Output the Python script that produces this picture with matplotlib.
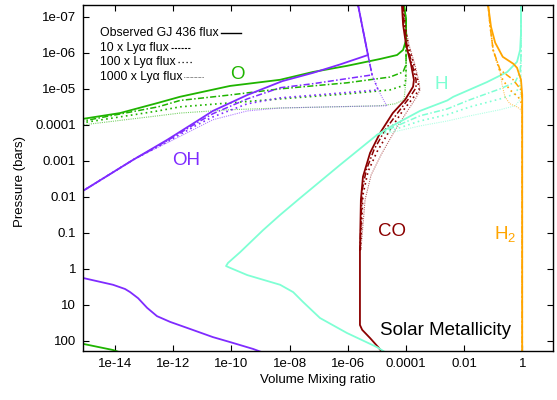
import matplotlib
matplotlib.use("Agg")
import matplotlib.pyplot as plt
from matplotlib.lines import Line2D
from matplotlib.ticker import FixedLocator, NullLocator

plt.rcParams["font.family"] = ["Liberation Sans", "DejaVu Sans"]
plt.rcParams["mathtext.default"] = "regular"

# ---- data: volume mixing ratio vs pressure (bars) ----
# O
o_obs_vmr = [8.5e-5, 1.0e-4, 1.0e-4, 7.9e-5, 4.9e-5, 1.29e-5, 9.3e-7, 6.3e-8, 4.7e-9, 8.9e-11,
             1.7e-12, 3.0e-13, 1.48e-14, 7.9e-16, 1e-17, 1e-16, 7.9e-16, 8.5e-15, 3e-14]
o_obs_p = [4.7e-8, 1.2e-7, 4.4e-7, 8.3e-7, 1.15e-6, 1.48e-6, 2.3e-6, 3.4e-6, 5.6e-6, 8.3e-6,
           1.66e-5, 2.45e-5, 4.7e-5, 6.8e-5, 1e-3, 50, 120, 178, 250]
o_10x_vmr = [8.5e-5, 1.0e-4, 1.0e-4, 1.0e-4, 7.9e-5, 2.8e-5, 9.3e-7, 4.7e-9, 8.9e-11, 1.7e-12,
             3.0e-13, 7.9e-16, 1e-17]
o_10x_p = [4.7e-8, 1.2e-7, 6.0e-7, 2.1e-6, 3.4e-6, 4.7e-6, 6.8e-6, 1.0e-5, 1.48e-5, 2.1e-5,
           3.16e-5, 7.8e-5, 1e-3]
o_100x_vmr = [8.5e-5, 1.0e-4, 1.0e-4, 1.0e-4, 9.3e-5, 2.8e-5, 9.3e-7, 4.7e-9, 8.9e-11, 1.7e-12,
              3.0e-13, 7.9e-16, 1e-17]
o_100x_p = [4.7e-8, 1.2e-7, 6.0e-7, 2.95e-6, 7.8e-6, 1.07e-5, 1.38e-5, 1.9e-5, 2.45e-5, 3.16e-5,
            4.1e-5, 8.7e-5, 1e-3]
o_1000x_vmr = [8.5e-5, 1.0e-4, 1.0e-4, 1.0e-4, 8.5e-5, 4.2e-5, 1.29e-5, 4.7e-9, 8.9e-11, 1.7e-12,
               3.0e-13, 7.9e-16, 1e-17]
o_1000x_p = [4.7e-8, 1.2e-7, 6.0e-7, 5.6e-6, 2.0e-5, 2.6e-5, 2.95e-5, 3.4e-5, 3.8e-5, 4.7e-5,
             5.6e-5, 1.0e-4, 1e-3]

# OH (upper atmosphere branch + deep branch, joined off the left edge)
oh_deep_vmr = [1e-17, 7.9e-16, 8.5e-15, 2.2e-14, 3.3e-14, 6.2e-14, 1.26e-13, 2.75e-13, 7.8e-13,
               3.8e-12, 2.3e-11, 8.9e-11, 5.5e-10, 1.1e-9]
oh_deep_p = [0.1, 1.78, 2.75, 3.6, 4.4, 6.5, 12, 20.4, 29.5, 46.4, 78, 107, 166, 204]
oh_obs_vmr = [2.24e-6, 3.3e-6, 4.9e-6, 5.4e-7, 6.3e-8, 5.6e-9, 3.5e-10, 2.3e-11, 6.6e-12,
              6.2e-13, 4.2e-14, 7.9e-16]
oh_obs_p = [4.7e-8, 2.3e-7, 1.15e-6, 2.1e-6, 3.6e-6, 6.1e-6, 1.48e-5, 4.1e-5, 7.8e-5,
            2.6e-4, 9.3e-4, 6.8e-3]
oh_10x_vmr = [2.24e-6, 3.3e-6, 4.9e-6, 6.8e-6, 9.3e-7, 6.3e-8, 4.7e-9, 3.5e-10, 2.3e-11, 6.6e-12,
              6.2e-13, 4.2e-14, 7.9e-16]
oh_10x_p = [4.7e-8, 2.3e-7, 1.15e-6, 4.1e-6, 5.2e-6, 7.2e-6, 9.3e-6, 1.9e-5, 4.9e-5, 8.7e-5,
            2.75e-4, 9.3e-4, 6.8e-3]
oh_100x_vmr = [2.24e-6, 3.3e-6, 4.9e-6, 6.8e-6, 1.1e-5, 2.45e-7, 4.7e-9, 3.5e-10, 2.3e-11,
               6.6e-12, 6.2e-13, 4.2e-14, 7.9e-16]
oh_100x_p = [4.7e-8, 2.3e-7, 1.15e-6, 4.1e-6, 1.07e-5, 1.38e-5, 1.78e-5, 2.6e-5, 6.0e-5,
             1.0e-4, 2.95e-4, 9.3e-4, 6.8e-3]
oh_1000x_vmr = [2.24e-6, 3.3e-6, 4.9e-6, 6.8e-6, 1.1e-5, 1.9e-5, 2.24e-5, 2.45e-7, 4.7e-9,
                3.5e-10, 2.3e-11, 6.6e-12, 6.2e-13, 4.2e-14, 7.9e-16]
oh_1000x_p = [4.7e-8, 2.3e-7, 1.15e-6, 4.1e-6, 1.07e-5, 2.45e-5, 2.95e-5, 3.16e-5, 3.4e-5,
              4.1e-5, 7.2e-5, 1.2e-4, 3.16e-4, 9.3e-4, 6.8e-3]

# CO
co_deep_vmr = [2.6e-6, 2.6e-6, 3.1e-6, 5.8e-6, 1.1e-5, 1.5e-5]
co_deep_p = [0.295, 36, 49, 83, 148, 204]
co_obs_vmr = [7.2e-5, 7.9e-5, 1.0e-4, 1.48e-4, 1.86e-4, 1.74e-4, 9.3e-5, 3.5e-5, 1.29e-5,
              5.8e-6, 3.3e-6, 2.8e-6, 2.6e-6]
co_obs_p = [4.7e-8, 1.66e-7, 6.0e-7, 2.1e-6, 5.6e-6, 8.7e-6, 2.0e-5, 4.7e-5, 1.66e-4,
            6.0e-4, 2.75e-3, 1.2e-2, 0.295]
co_10x_vmr = [7.9e-5, 8.5e-5, 1.07e-4, 1.62e-4, 2.2e-4, 2.2e-4, 1.38e-4, 5.4e-5, 1.9e-5,
              7.9e-6, 4.3e-6, 3.1e-6, 2.6e-6]
co_10x_p = [4.7e-8, 1.66e-7, 6.0e-7, 2.1e-6, 5.6e-6, 9.3e-6, 1.66e-5, 4.4e-5, 1.38e-4,
            4.9e-4, 1.78e-3, 6.5e-3, 0.295]
co_100x_vmr = [7.9e-5, 9.3e-5, 1.17e-4, 1.86e-4, 2.57e-4, 2.8e-4, 1.74e-4, 7.2e-5, 2.8e-5,
               1.0e-5, 4.9e-6, 3.3e-6, 2.7e-6]
co_100x_p = [4.7e-8, 1.66e-7, 6.0e-7, 2.1e-6, 6.5e-6, 1.07e-5, 1.78e-5, 4.4e-5, 1.38e-4,
             5.6e-4, 2.0e-3, 8.7e-3, 0.295]
co_1000x_vmr = [7.9e-5, 9.3e-5, 1.26e-4, 2.0e-4, 2.8e-4, 3.0e-4, 2.2e-4, 1.0e-4, 3.9e-5,
                1.38e-5, 6.3e-6, 3.9e-6, 2.8e-6]
co_1000x_p = [4.7e-8, 1.66e-7, 6.0e-7, 2.1e-6, 6.5e-6, 1.07e-5, 1.78e-5, 4.7e-5, 1.55e-4,
              6.8e-4, 2.45e-3, 1.2e-2, 0.295]

# H
h_deep_vmr = [1.0e-5, 5.4e-7, 2.3e-8, 4.7e-9, 1.23e-9, 2.0e-10, 7.6e-11, 6.5e-11, 8.9e-11,
              3.5e-10, 4.7e-9, 1.32e-8, 2.9e-8, 1.1e-7, 9.3e-7, 1.0e-5, 1.9e-5]
h_deep_p = [1.9e-4, 1.29e-3, 1.07e-2, 3.16e-2, 8.3e-2, 0.34, 0.68, 0.83, 0.93,
            1.48, 2.75, 4.4, 8.3, 23, 60, 148, 204]
h_obs_vmr = [0.89, 0.89, 0.83, 0.65, 0.30, 0.060, 4.2e-3, 2.6e-3, 3.0e-4, 2.8e-5, 1.0e-5]
h_obs_p = [4.7e-8, 2.8e-7, 8.3e-7, 1.78e-6, 3.4e-6, 6.5e-6, 1.66e-5, 2.1e-5, 4.1e-5, 1.15e-4,
           1.9e-4]
h_10x_vmr = [0.89, 0.89, 0.83, 0.56, 0.17, 1.58e-2, 2.6e-3, 3.0e-4, 2.8e-5, 1.0e-5]
h_10x_p = [4.7e-8, 1.15e-6, 3.4e-6, 6.5e-6, 1.0e-5, 2.0e-5, 3.6e-5, 5.6e-5, 1.29e-4, 1.9e-4]
h_100x_vmr = [0.89, 0.89, 0.83, 0.56, 0.17, 1.58e-2, 2.6e-3, 3.0e-4, 2.8e-5, 1.0e-5]
h_100x_p = [4.7e-8, 2.1e-6, 7.8e-6, 1.38e-5, 1.9e-5, 3.16e-5, 5.2e-5, 7.8e-5, 1.48e-4, 1.9e-4]
h_1000x_vmr = [0.89, 0.89, 0.83, 0.56, 0.17, 1.58e-2, 2.6e-3, 3.0e-4, 2.8e-5, 1.0e-5]
h_1000x_p = [4.7e-8, 5.6e-6, 2.0e-5, 2.95e-5, 3.8e-5, 5.6e-5, 7.8e-5, 1.07e-4, 1.66e-4, 1.9e-4]

# H2
h2_obs_vmr = [6.6e-2, 8.3e-2, 0.115, 0.21, 0.48, 0.65, 0.89, 0.98, 0.98]
h2_obs_p = [4.7e-8, 1.9e-7, 5.2e-7, 1.29e-6, 2.0e-6, 2.6e-6, 5.6e-6, 1.48e-5, 204]
h2_10x_vmr = [6.6e-2, 7.8e-2, 9.8e-2, 0.17, 0.48, 0.89, 0.98, 0.98]
h2_10x_p = [4.7e-8, 1.9e-7, 8.3e-7, 2.95e-6, 5.6e-6, 1.07e-5, 2.0e-5, 204]
h2_100x_vmr = [6.6e-2, 7.8e-2, 9.8e-2, 0.17, 0.21, 0.37, 0.71, 0.89, 0.98, 0.98]
h2_100x_p = [4.7e-8, 1.9e-7, 8.3e-7, 3.4e-6, 5.6e-6, 1.07e-5, 1.66e-5, 2.3e-5, 3.8e-5, 204]
h2_1000x_vmr = [6.6e-2, 7.8e-2, 9.8e-2, 0.17, 0.20, 0.25, 0.37, 0.65, 0.89, 0.98, 0.98]
h2_1000x_p = [4.7e-8, 1.9e-7, 8.3e-7, 3.4e-6, 7.8e-6, 1.66e-5, 2.6e-5, 3.16e-5, 3.8e-5,
              6.3e-5, 204]

x_ticks = [1e-14, 1e-12, 1e-10, 1e-8, 1e-6, 1e-4, 1e-2, 1]
x_ticklabels = ["1e-14", "1e-12", "1e-10", "1e-08", "1e-06", "0.0001", "0.01", "1"]
y_ticks = [1e-7, 1e-6, 1e-5, 1e-4, 1e-3, 1e-2, 1e-1, 1, 10, 100]
y_ticklabels = ["1e-07", "1e-06", "1e-05", "0.0001", "0.001", "0.01", "0.1", "1", "10", "100"]

legend_labels = ["Observed GJ 436 flux", "10 x Ly\u03b1 flux", "100 x Ly\u03b1 flux",
                 "1000 x Ly\u03b1 flux"]

# ---- styles ----
GREEN, PURPLE, AQUA, DRED, ORANGE = "#1fb400", "#7f2bff", "#7fffd4", "#8b0000", "#ffa500"
STYLES = {
    "obs":   dict(ls="-", lw=1.3, alpha=1.0),
    "10x":   dict(ls=(0, (4, 1.5, 1, 1.5)), lw=1.1, alpha=1.0),
    "100x":  dict(ls=(0, (1, 2)), lw=1.2, alpha=1.0),
    "1000x": dict(ls=(0, (1, 1)), lw=0.8, alpha=0.6),
}

fig = plt.figure(figsize=(5.57, 4.0), dpi=100)
ax = fig.add_axes([83 / 557, 1 - 350.7 / 400, 470 / 557, 345.7 / 400])
ax.set_xscale("log")
ax.set_yscale("log")


def draw(vmr, p, color, kind):
    st = STYLES[kind]
    ax.plot(vmr, p, color=color, linestyle=st["ls"], lw=st["lw"], alpha=st["alpha"],
            solid_joinstyle="round")


# deep parts (identical for all fluxes)
draw(oh_deep_vmr, oh_deep_p, PURPLE, "obs")
draw(co_deep_vmr, co_deep_p, DRED, "obs")
draw(h_deep_vmr, h_deep_p, AQUA, "obs")

series = [
    (GREEN, [(o_obs_vmr, o_obs_p), (o_10x_vmr, o_10x_p), (o_100x_vmr, o_100x_p),
             (o_1000x_vmr, o_1000x_p)]),
    (PURPLE, [(oh_obs_vmr, oh_obs_p), (oh_10x_vmr, oh_10x_p), (oh_100x_vmr, oh_100x_p),
              (oh_1000x_vmr, oh_1000x_p)]),
    (DRED, [(co_obs_vmr, co_obs_p), (co_10x_vmr, co_10x_p), (co_100x_vmr, co_100x_p),
            (co_1000x_vmr, co_1000x_p)]),
    (AQUA, [(h_obs_vmr, h_obs_p), (h_10x_vmr, h_10x_p), (h_100x_vmr, h_100x_p),
            (h_1000x_vmr, h_1000x_p)]),
    (ORANGE, [(h2_obs_vmr, h2_obs_p), (h2_10x_vmr, h2_10x_p), (h2_100x_vmr, h2_100x_p),
              (h2_1000x_vmr, h2_1000x_p)]),
]
for color, curves in series:
    for kind, (v, p) in zip(["1000x", "100x", "10x", "obs"], curves[::-1]):
        draw(v, p, color, kind)

ax.set_xlim(7.9e-16, 11.2)
ax.set_ylim(186, 4.7e-8)

ax.xaxis.set_major_locator(FixedLocator(x_ticks))
ax.xaxis.set_minor_locator(NullLocator())
ax.set_xticklabels(x_ticklabels)
ax.yaxis.set_major_locator(FixedLocator(y_ticks))
ax.yaxis.set_minor_locator(NullLocator())
ax.set_yticklabels(y_ticklabels)
ax.tick_params(which="major", direction="in", length=4.5, width=0.8, top=True, right=True,
               labelsize=9.5, pad=5)
for s in ax.spines.values():
    s.set_linewidth(1.0)

ax.set_xlabel("Volume Mixing ratio", fontsize=9.5)
ax.set_ylabel("Pressure (bars)", fontsize=9.5)
ax.xaxis.set_label_coords(0.5, -0.068)
ax.yaxis.set_label_coords(-0.121, 0.49)

# species labels
ax.text(1.62e-10, 4.0e-6, "O", color=GREEN, fontsize=13.5, ha="center", va="center")
ax.text(2.75e-12, 1.0e-3, "OH", color=PURPLE, fontsize=13.5, ha="center", va="center")
ax.text(1.6e-3, 7.8e-6, "H", color=AQUA, fontsize=13.5, ha="center", va="center")
ax.text(3.3e-5, 0.093, "CO", color=DRED, fontsize=13.5, ha="center", va="center")
ax.text(0.25, 0.11, "H$_2$", color=ORANGE, fontsize=13.5, ha="center", va="center")
ax.text(2.3e-3, 52, "Solar Metallicity", color="black", fontsize=13.5, ha="center",
        va="center")

# hand-made key: text followed by a short line sample
rows_y = [0.919, 0.876, 0.835, 0.792]
samples = [("-", 1.0, 20), ((0, (2, 1)), 0.8, 19), ((0, (1, 2.2)), 0.9, 16), ((0, (0.6, 1.0)), 0.6, 20)]
fig.canvas.draw()
renderer = fig.canvas.get_renderer()
for lab, yy, (ls, lw, length) in zip(legend_labels, rows_y, samples):
    t = ax.text(0.036, yy, lab, transform=ax.transAxes, fontsize=8.8, ha="left", va="center")
    bb = t.get_window_extent(renderer=renderer)
    x0 = bb.x1 + 2
    ypix = ax.transAxes.transform((0, yy))[1]
    fig.add_artist(Line2D([x0, x0 + length], [ypix, ypix], transform=None, color="black",
                          lw=lw, linestyle=ls))

fig.savefig("out.png", dpi=100)
